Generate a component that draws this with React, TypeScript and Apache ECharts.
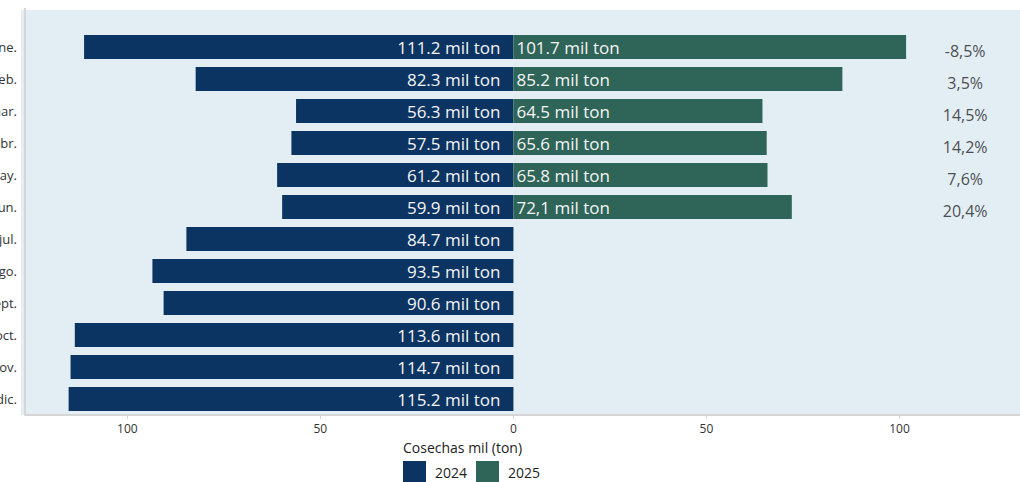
import React, { useEffect, useRef } from "react";
import * as echarts from "echarts";

const months = ["ene.", "feb.", "mar.", "abr.", "may.", "jun.", "jul.", "ago.", "sept.", "oct.", "nov.", "dic."];
const values2024 = [111.2, 82.3, 56.3, 57.5, 61.2, 59.9, 84.7, 93.5, 90.6, 113.6, 114.7, 115.2];
const values2025 = [101.7, 85.2, 64.5, 65.6, 65.8, 72.1];
const labels2024 = ["111.2 mil ton", "82.3 mil ton", "56.3 mil ton", "57.5 mil ton", "61.2 mil ton", "59.9 mil ton", "84.7 mil ton", "93.5 mil ton", "90.6 mil ton", "113.6 mil ton", "114.7 mil ton", "115.2 mil ton"];
const labels2025 = ["101.7 mil ton", "85.2 mil ton", "64.5 mil ton", "65.6 mil ton", "65.8 mil ton", "72,1 mil ton"];
const pctLabels = ["-8,5%", "3,5%", "14,5%", "14,2%", "7,6%", "20,4%"];
const pctX = 117;
const tickValues = [-100, -50, 0, 50, 100];

const C2024 = "#0b3463";
const C2025 = "#2f6458";
const BG = "#e3edf4";
const FONT = "Open Sans";

export default function App() {
  const ref = useRef<HTMLDivElement>(null);
  useEffect(() => {
    document.body.style.margin = "0";
    const chart = echarts.init(ref.current!, null, { renderer: "svg" });
    chart.setOption({
      animation: false,
      textStyle: { fontFamily: FONT },
      title: {
        text: "Cosechas mil (ton)",
        left: 403,
        top: 440,
        padding: 0,
        textStyle: { fontFamily: FONT, fontSize: 14, fontWeight: "normal", color: "#222" },
      },
      legend: {
        left: 403,
        top: 461,
        padding: 0,
        itemWidth: 23,
        itemHeight: 22,
        itemGap: 9,
        icon: "rect",
        data: ["2024", "2025"],
        textStyle: { fontFamily: FONT, fontSize: 14, color: "#222", padding: [0, 0, 0, 4] },
      },
      graphic: [
        { type: "rect", z: -10, shape: { x: 21, y: 10, width: 999, height: 405 }, style: { fill: BG } },
        { type: "line", z: 10, shape: { x1: 25, y1: 8, x2: 25, y2: 415 }, style: { stroke: "#d6d6d6", lineWidth: 2 } },
      ],
      grid: { left: 25, right: 0, top: 31, bottom: 67, containLabel: false, outerBoundsMode: "none" },
      xAxis: {
        type: "value",
        min: -126.5,
        max: 131.2,
        splitLine: { show: false },
        axisLine: { show: true, onZero: false, lineStyle: { color: "#d6d6d6", width: 2 } },
        axisTick: { show: true, customValues: tickValues, length: 4, lineStyle: { color: "#d6d6d6" } },
        axisLabel: {
          customValues: tickValues,
          formatter: (v: number) => String(Math.abs(v)),
          fontSize: 12,
          color: "#333",
          margin: 7,
          fontFamily: FONT,
        },
      },
      yAxis: {
        type: "category",
        data: months,
        inverse: true,
        axisLine: { show: false },
        axisTick: { show: true, length: 4, alignWithLabel: true, lineStyle: { color: "#d6d6d6" } },
        axisLabel: { fontSize: 13, color: "#333", margin: 8, fontFamily: FONT },
      },
      series: [
        {
          name: "2024",
          type: "bar",
          barWidth: 24,
          barGap: "-100%",
          itemStyle: { color: C2024 },
          data: values2024.map((v) => -v),
          label: {
            show: true,
            position: "insideRight",
            distance: 13,
            color: "#f4f4f4",
            fontSize: 17,
            fontFamily: FONT,
            formatter: (p: any) => labels2024[p.dataIndex],
          },
        },
        {
          name: "2025",
          type: "bar",
          barWidth: 24,
          barGap: "-100%",
          itemStyle: { color: C2025 },
          data: values2025,
          label: {
            show: true,
            position: "insideLeft",
            distance: 3,
            color: "#f4f4f4",
            fontSize: 17,
            fontFamily: FONT,
            formatter: (p: any) => labels2025[p.dataIndex],
          },
        },
        {
          name: "pct",
          type: "scatter",
          symbolSize: 0,
          silent: true,
          data: pctLabels.map((_, i) => [pctX, months[i]]),
          label: {
            show: true,
            position: "inside",
            offset: [0, 4],
            color: "#222",
            fontSize: 16,
            fontFamily: FONT,
            formatter: (p: any) => pctLabels[p.dataIndex],
          },
        },
      ],
    });
    return () => chart.dispose();
  }, []);
  return <div ref={ref} style={{ width: 1020, height: 482 }} />;
}
